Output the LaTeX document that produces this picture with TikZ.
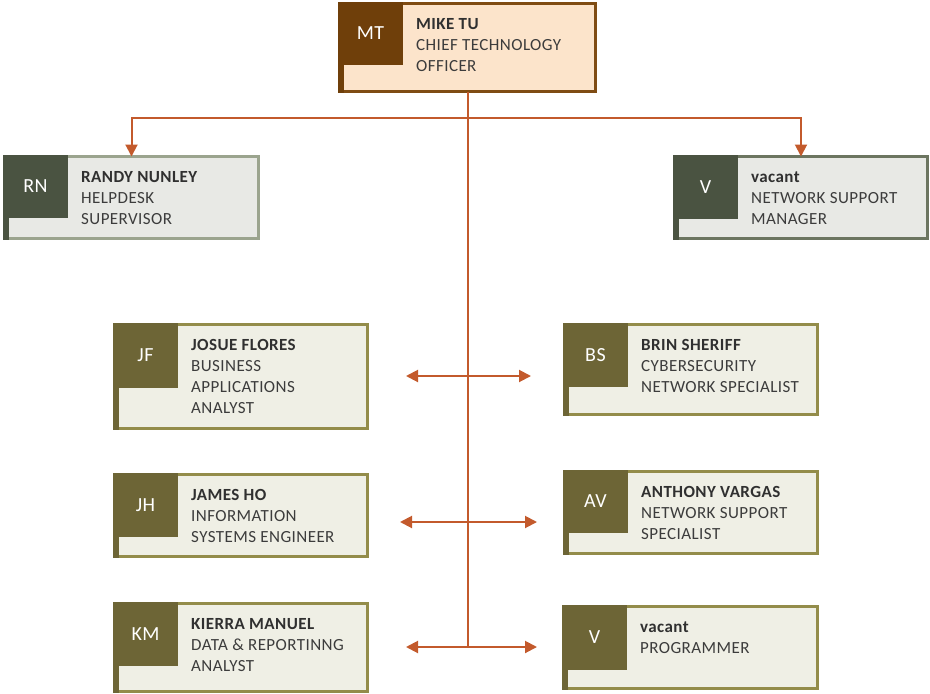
\documentclass[tikz,border=0pt]{standalone}
\usepackage{fontspec}
\setmainfont{Carlito}[LetterSpace=2.5]
\usetikzlibrary{arrows.meta}
\definecolor{conn}{HTML}{C35A2C}
\definecolor{mtBorder}{HTML}{7F4C13}
\definecolor{mtDark}{HTML}{6F3F0A}
\definecolor{mtFill}{HTML}{FCE4CB}
\definecolor{rnBorder}{HTML}{9BA48E}
\definecolor{vnBorder}{HTML}{6C7560}
\definecolor{gDark}{HTML}{4A5341}
\definecolor{gFill}{HTML}{E8E9E5}
\definecolor{olBorder}{HTML}{938C4A}
\definecolor{olDark}{HTML}{6D6536}
\definecolor{olFill}{HTML}{EFEFE5}
\definecolor{nameC}{HTML}{303030}
\definecolor{titleC}{HTML}{3C3C3C}
\tikzset{
  cardbox/.style={line width=3pt, inner sep=0pt, outer sep=0pt},
  brownbox/.style={draw=mtBorder, fill=mtFill},
  brownsq/.style={fill=mtDark},
  greenbox/.style={draw=rnBorder, fill=gFill},
  greensq/.style={fill=gDark},
  darkgreenbox/.style={draw=vnBorder, fill=gFill},
  darkgreensq/.style={fill=gDark},
  olivebox/.style={draw=olBorder, fill=olFill},
  olivesq/.style={fill=olDark},
  initials/.style={text=white, font=\fontsize{20}{24}\selectfont, inner sep=0pt},
  cardtext/.style={inner sep=0pt, text=titleC, font=\fontsize{17}{21}\selectfont},
  link/.style={draw=conn, line width=2pt},
  arrowdown/.style={-{Triangle[length=12pt,width=12pt]}},
  arrowboth/.style={{Triangle[length=12pt,width=12pt]}-{Triangle[length=12pt,width=12pt]}}
}
\newcommand\pname[1]{\textcolor{nameC}{\textbf{#1}}}
% #1 id, #2 x, #3 y, #4 w, #5 h, #6 group, #7 initials, #8 square height, #9 text
\newcommand\orgcard[9]{%
  \node[cardbox,#6box,anchor=north west,minimum width=#4pt-3pt,minimum height=#5pt-3pt] (#1) at ({#2+1.5},{#3+1.5}) {};
  \fill[#6sq] (#2,#3) rectangle ({#2+65},{#3+#8});
  \fill[#6sq] (#2,#3) rectangle ({#2+6},{#3+#5});
  \node[initials] (#1-ini) at ({#2+32.5},{#3+#8/2}) {#7};
  \node[cardtext,anchor=base west] (#1-txt) at ({#2+78},{#3+27}) {\parbox[t]{175pt}{#9}};
}
\begin{document}
\begin{tikzpicture}[x=1pt,y=-1pt]
\useasboundingbox (0,0) rectangle (930,694);
\orgcard{MT}{338}{2}{259}{91}{brown}{MT}{63}{\pname{MIKE TU}\\CHIEF TECHNOLOGY\\OFFICER}
\orgcard{RN}{3}{155}{257}{85}{green}{RN}{63}{\pname{RANDY NUNLEY}\\HELPDESK\\SUPERVISOR}
\orgcard{VN}{673}{155}{256}{85}{darkgreen}{V}{64}{\pname{vacant}\\NETWORK SUPPORT\\MANAGER}
\orgcard{JF}{113}{323}{256}{107}{olive}{JF}{65}{\pname{JOSUE FLORES}\\BUSINESS\\APPLICATIONS\\ANALYST}
\orgcard{BS}{563}{323}{256}{93}{olive}{BS}{64}{\pname{BRIN SHERIFF}\\CYBERSECURITY\\NETWORK SPECIALIST}
\orgcard{JH}{113}{473}{256}{85}{olive}{JH}{64}{\pname{JAMES HO}\\INFORMATION\\SYSTEMS ENGINEER}
\orgcard{AV}{563}{470}{256}{85}{olive}{AV}{63}{\pname{ANTHONY VARGAS}\\NETWORK SUPPORT\\SPECIALIST}
\orgcard{KM}{113}{602}{256}{91}{olive}{KM}{64}{\pname{KIERRA MANUEL}\\DATA \& REPORTINNG\\ANALYST}
\orgcard{VP}{562}{605}{257}{85}{olive}{V}{65}{\pname{vacant}\\PROGRAMMER}
% connectors
\coordinate (trunkend) at (467,647);
\coordinate (branch) at (467,118);
\draw[link] (MT.south) -- (MT.south |- trunkend);
\draw[link,arrowdown] (MT.south |- branch) -| (RN.north);
\draw[link,arrowdown] (MT.south |- branch) -| (VN.north);
\coordinate (r1l) at (406,376);
\coordinate (r1r) at (531,376);
\coordinate (r2l) at (400,522);
\coordinate (r2r) at (537,522);
\coordinate (r3l) at (406,647);
\coordinate (r3r) at (537,647);
\draw[link,arrowboth] (r1l) -- (r1r);
\draw[link,arrowboth] (r2l) -- (r2r);
\draw[link,arrowboth] (r3l) -- (r3r);
\end{tikzpicture}
\end{document}
